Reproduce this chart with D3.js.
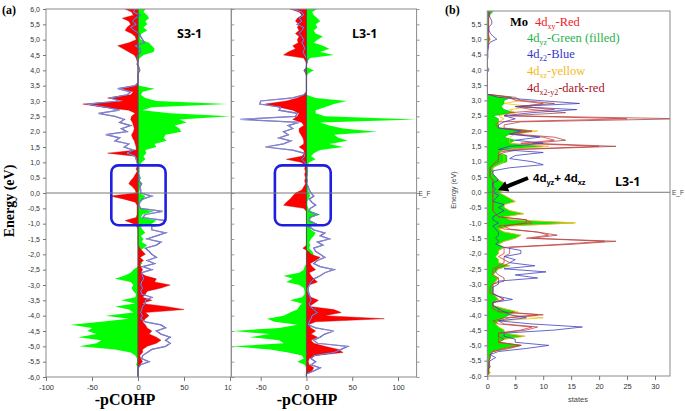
<!DOCTYPE html>
<html><head><meta charset="utf-8">
<script src="https://cdn.jsdelivr.net/npm/d3@7"></script>
<style>body{margin:0;background:#fff}svg{display:block}</style>
</head><body>
<svg id="c" width="685" height="411"></svg>
<script>
// ---------- energy grid (eV), from 6.0 down to -6.0, step 0.1 ----------
const energy = d3.range(121).map(i => +(6 - i * 0.1).toFixed(1));

// ---------- panel (a) : -pCOHP, S3-1 ----------
const s3Red = [
 -14,-7,-5,-17,-10,-8,-12,-14,-7,-3,
 -2,-10,-22,-16,-10,-4,-2,-1,0,0,
 0,0,0,0,0,-2,-18,-5,-8,-33,
 -15,-60,-38,-10,-3,-7,-8,-6,-5,-4,
 -5,-7,-6,-4,-3,-2,-2,-33,-3,-1,
 -1,0,-2,-1,-3,-5,-8,-10,-6,-3,
 -2,-30,-15,-3,-1,-1,-1,-1,-2,-14,
 -5,-1,0,0,0,0,0,0,2,5,
 8,2,6,2,3,5,3,8,20,18,
 35,25,10,8,5,15,4,30,50,8,
 12,8,5,8,10,15,12,20,25,20,
 10,5,5,2,3,5,2,0,0,0,
 0];
const s3Green = [
 8,6,10,12,8,10,6,10,4,2,
 3,12,15,18,17,6,2,0,0,0,
 0,0,0,0,0,1,18,5,3,8,
 20,97,15,5,35,100,45,53,40,45,
 47,30,28,31,18,20,8,9,6,8,
 4,2,1,2,1,3,2,4,2,2,
 1,8,6,2,1,2,17,5,3,20,
 15,3,5,8,3,6,4,10,6,1,
 0,3,1,5,0,-5,-8,-15,-25,-8,
 -5,-7,-5,-2,-3,-18,-3,-25,-10,-5,
 -35,-10,-40,-73,-50,-55,-45,-65,-40,-45,
 -64,-25,-8,-3,-1,-1,-2,0,0,0,
 0];
const s3Blue = [
 -3,-5,2,-3,-6,-2,-8,-4,1,3,
 5,7,-3,2,3,0,-1,0,-1,1,
 2,0,0,0,0,-3,-22,-8,-12,-30,
 -20,-55,-35,-20,-43,-25,-15,-20,-8,-18,
 -12,-35,-20,-25,-10,-15,-5,-12,-3,-2,
 -1,0,1,0,1,2,1,4,2,3,
 3,15,5,2,1,3,27,8,5,30,
 28,15,15,30,20,10,25,20,8,12,
 15,20,10,18,5,15,4,5,6,4,
 3,5,3,4,15,8,8,5,4,3,
 5,3,8,25,30,20,25,35,30,35,
 30,15,10,5,4,12,3,0,0,0,
 0];

// ---------- panel (a) : -pCOHP, L3-1 ----------
const l3Red = [
 -18,-8,-5,-10,-12,-8,-10,-8,-12,-8,
 -10,-9,-15,-12,-20,-25,-3,-1,0,0,
 -3,-1,0,0,0,0,0,0,-2,-10,
 -22,-45,-30,-15,-8,-10,-15,-5,-3,-8,
 -8,-6,-4,-3,-3,-8,-3,-2,-5,-22,
 -6,-1,-2,-1,-2,-1,-2,-1,-3,-5,
 -12,-15,-18,-22,-25,-3,0,0,0,0,
 0,0,0,0,0,0,0,0,-4,2,
 5,15,10,4,6,10,3,5,8,12,
 3,1,1,2,5,13,8,3,30,38,
 20,85,10,2,5,10,5,12,5,8,
 20,35,40,10,3,2,3,8,6,0,
 0];
const l3Green = [
 12,6,8,12,15,10,12,8,10,18,
 12,8,18,25,15,30,4,1,0,0,
 8,2,0,0,0,0,0,0,0,10,
 44,30,20,10,10,20,120,15,25,40,
 77,30,35,45,25,40,15,8,5,10,
 3,1,1,2,1,1,1,1,2,2,
 3,4,2,1,1,2,5,15,5,3,
 12,3,5,10,8,5,3,4,3,6,
 8,2,1,0,-2,-3,-8,-25,-15,-22,
 -8,-3,-2,-2,-5,-18,-5,-8,-10,-18,
 -25,-43,-35,-10,-30,-80,-40,-62,-30,-25,
 -82,-40,-20,-5,-3,-10,-2,0,0,0,
 0];
const l3Blue = [
 -15,-5,-3,-8,-5,-10,-3,-5,-8,-5,
 -3,-5,-3,-2,-4,-2,0,1,0,0,
 -2,0,0,0,0,0,0,0,-3,-15,
 -50,-51,-28,-30,-10,-12,-72,-8,-20,-15,
 -25,-20,-30,-17,-25,-45,-15,-3,-2,-5,
 -2,0,1,0,1,0,1,0,2,3,
 5,8,3,6,10,4,3,12,4,3,
 10,3,8,20,15,25,12,18,8,10,
 15,20,12,8,15,30,20,15,8,5,
 3,2,2,3,4,5,3,4,8,12,
 6,5,3,2,10,30,20,15,8,12,
 45,38,30,8,5,10,5,15,8,0,
 0];

// ---------- panel (b) : Mo 4d PDOS (states), L3-1 ----------
const moDyz = [ // green, filled
 1,1,0.5,0.3,0.2,0.3,0.2,0.1,0.2,0.3,
 0.5,0.2,0.1,0.1,0,0,0,0,0,0,
 0,0,0,0,0,0,0,0,0,4.4,
 3,3,2.5,3,5,1,2,2,2,2,
 8,4,3,5,4,10,3,2,3.5,3.5,
 3.5,2,1,1,1,1.5,2,3,4,3,
 2,3,4,5,3,3,4,6.5,3,4,
 15.5,4,2,3,6,5,3,2,3,2,
 2,1.5,2,2,4,2,1.5,1,2,1.5,
 1,1,1,1,1.5,2,1,1,3,5,
 4,3,2,1.5,2,3,3,6.5,3,2,
 6,3,1,0.5,0.5,0.3,0.3,0.5,0.3,0.5,
 0];
const moDxz = [ // yellow
 1.5,0.5,0.3,0.2,0.3,0.2,0.2,0.2,0.2,0.3,
 0.5,0.2,0.1,0,0,0,0,0,0,0,
 0,0,0,0,0,0,0,0,0,3,
 6,3,8,4,5,2,3,2,2,2,
 9,5,4,4,4,11,4,2,3,3,
 3,2,1,1,1,1.5,2,3,4,3.5,
 2,3,4,5,3,3,4,6.5,3,4,
 15.8,4,2,3,6,5,3,2,3,2,
 2,1.5,2,2,4,2,1.5,1,2,1.5,
 1,1,1,1,1.5,2,1,1,3,5.5,
 4,10,2,1.5,2,3,3,6.8,3,2,
 6.2,3,1,0.5,0.5,0.3,0.3,0.5,0.3,0.5,
 0];
const moDz2 = [ // blue
 1,0.5,0.3,0.5,0.8,0.8,0.3,0.3,0.5,1,
 1.7,0.5,0.2,0.2,0.1,0.1,0.1,0,0,0,
 0.3,0,0,0,0,0,0,0,0,2,
 9,16.5,5,16,8,3,5,3,2,2,
 6,4,9.4,5,10,4,2,10,5,4,
 8,10,4,1,1,1.5,2,1,1,1.5,
 1,2,1.5,1,3,2,3,2,1,1,
 2,1,1.5,2,2,1.5,2,1.5,3,6,
 6,3,5,4,8.5,3,10.5,5,9,2,
 2,1,1,1,2,4.5,1,1,2,3,
 4,7,2,8,17,12,3,3,5,5,
 11,7,2,0.5,1.5,0.5,0.3,0.5,0,0,
 0];
const moDxy = [ // red
 0.5,0.3,0.2,0.2,0.2,0.2,0.2,0.2,0.2,0.2,
 0.3,0.2,0.1,0,0,0,0,0,0,0,
 0,0,0,0,0,0,0,0,0,4,
 5,10,6,12,4,3,25,2,1.5,2,
 7,4,10,12,6,20,5,2,2,2,
 1.5,1,0.5,0.5,0.5,0.5,1,1,1,1,
 1,1,1,1,1,1,1,1.5,2,7,
 8,2,3,9,11,7,21,13,3,3,
 3,2,3,3,2,1,1,1,2,2,
 1,0.5,0.5,0.5,2,3,1,1,1,2,
 9,3,1,2,8,6,2,2,2,2,
 6,3,1,0.5,0.5,0.3,0.3,0.2,0.2,0.2,
 0];
const moDx2y2 = [ // dark red
 0.5,0.3,0.2,0.2,0.2,0.2,0.2,0.2,0.2,0.2,
 0.3,0.2,0.1,0,0,0,0,0,0,0,
 0,0,0,0,0,0,0,0,0,5,
 6,12,5,8,14,4,35,6,3,3,
 8,5,12,14,8,23,6,3,2,2,
 2,1,0.5,0.5,0.5,0.5,1,1,1,1,
 1,1,1,1,1,1,1,1.5,2,7,
 7,3,4,9,12.5,8,23,15,4,4,
 4,3,3,4,3,1.5,1.5,2,3,3,
 1,1,1,1,2,3,1,1,2,2,
 10,4,2,3,9,7,2,2,3,2,
 6,4,1,0.5,0.5,0.3,0.3,0.2,0.2,0.2,
 0];

// ---------- ticks / labels ----------
const energyTicks = d3.range(25).map(i => +(6 - i * 0.5).toFixed(1));
const energyTicksB = energyTicks.filter(e => e <= 5.5);
const s3Ticks = [-100, -50, 0, 50, 100];
const l3Ticks = [-50, 0, 50, 100];
const statesTicks = [0, 5, 10, 15, 20, 25, 30];
const legendItems = [
  {pre: '4d', sub: 'xy', post: '-Red', color: '#ec2227'},
  {pre: '4d', sub: 'yz', post: '-Green (filled)', color: '#1fb24c'},
  {pre: '4d', sub: 'z2', post: '-Blue', color: '#3a35c8'},
  {pre: '4d', sub: 'xz', post: '-yellow', color: '#f4b918'},
  {pre: '4d', sub: 'x2-y2', post: '-dark-red', color: '#a8141f'}
];

// ---------- drawing ----------
const svg = d3.select('#c');
const fmtE = d => (d < 0 ? '-' : '') + Math.abs(d).toFixed(1).replace('.', ',');
const fmtI = d => (d < 0 ? '-' : '') + Math.abs(d);
const series = arr => energy.map((e, i) => ({e, v: arr[i]}));
const defs = svg.append('defs');
function clip(id, x, y, w, h) {
  defs.append('clipPath').attr('id', id).append('rect')
    .attr('x', x).attr('y', y).attr('width', w).attr('height', h);
}
const SANS = 'Liberation Sans, Arial, sans-serif';
const SERIF = 'Liberation Serif, Times New Roman, serif';

const yA = d3.scaleLinear().domain([-6, 6]).range([377, 9]);
const xS3 = d3.scaleLinear().domain([-100, 100]).range([46, 230]);
const xL3 = d3.scaleLinear().domain([-50, 100]).range([260.7, 398]);

const cohpPanels = [
  {x: xS3, left: 46, right: 231.3, red: s3Red, green: s3Green, blue: s3Blue, name: 'S3-1', nameX: 177, titleX: 125, ticks: s3Ticks, id: 'pS3', box: [-29, 30]},
  {x: xL3, left: 231.3, right: 416.6, red: l3Red, green: l3Green, blue: l3Blue, name: 'L3-1', nameX: 352, titleX: 307, ticks: l3Ticks, id: 'pL3', box: [-34.5, 26.5]}
];

cohpPanels.forEach(p => {
  const top = yA(6), bot = yA(-6);
  clip(p.id, p.left, top, p.right - p.left, bot - top);
  const g = svg.append('g').attr('clip-path', `url(#${p.id})`);
  const area = d3.area().y(d => yA(d.e)).x0(p.x(0)).x1(d => p.x(d.v));
  const line = d3.line().y(d => yA(d.e)).x(d => p.x(d.v));
  g.append('path').attr('d', area(series(p.green))).attr('fill', '#00ff00');
  g.append('path').attr('d', area(series(p.red))).attr('fill', '#ff0000')
    .attr('stroke', '#c00000').attr('stroke-width', 0.4);
  g.append('path').attr('d', line(series(p.blue))).attr('fill', 'none')
    .attr('stroke', '#3c3cb0').attr('stroke-width', 1.25);
  g.append('path').attr('d', line(series(p.blue))).attr('fill', 'none')
    .attr('stroke', '#e4e4f8').attr('stroke-width', 0.45);
  g.append('line').attr('x1', p.x(0)).attr('x2', p.x(0)).attr('y1', top).attr('y2', bot)
    .attr('stroke', '#555').attr('stroke-width', 1);
  svg.append('rect').attr('x', p.left).attr('y', top).attr('width', p.right - p.left).attr('height', bot - top)
    .attr('fill', 'none').attr('stroke', '#8a8a8a').attr('stroke-width', 1);
  // x axis (labels clipped at the right edge of the first panel)
  clip(p.id + 'ax', p.left - 20, bot, (p.right - p.left) + (p.id === 'pS3' ? 20 : 40), 22);
  const axWrap = svg.append('g').attr('clip-path', `url(#${p.id}ax)`);
  const ax = axWrap.append('g').attr('transform', `translate(0,${bot})`)
    .call(d3.axisBottom(p.x).tickValues(p.ticks).tickFormat(fmtI).tickSize(4).tickSizeOuter(0));
  ax.select('.domain').remove();
  ax.selectAll('line').attr('stroke', '#777');
  ax.selectAll('text').attr('font-family', SANS).attr('font-size', 7.5).attr('fill', '#333').attr('dy', '0.85em');
  const rt = svg.append('g').attr('transform', `translate(${p.right},0)`)
    .call(d3.axisRight(yA).tickValues(energyTicks).tickFormat('').tickSize(3).tickSizeOuter(0));
  rt.select('.domain').remove(); rt.selectAll('line').attr('stroke', '#999');
  svg.append('text').attr('x', p.nameX).attr('y', 38)
    .attr('font-family', 'Open Sans, Arial, sans-serif').attr('font-weight', 700).attr('font-size', 12.5)
    .text(p.name);
  svg.append('text').attr('x', p.titleX).attr('y', 405)
    .attr('text-anchor', 'middle').attr('font-family', SERIF)
    .attr('font-weight', 700).attr('font-size', 16).text('-pCOHP');
  svg.append('rect').attr('x', p.x(p.box[0])).attr('y', yA(0.9)).attr('width', p.x(p.box[1]) - p.x(p.box[0]))
    .attr('height', yA(-1.05) - yA(0.9)).attr('rx', 7).attr('fill', 'none')
    .attr('stroke', '#1f1fe0').attr('stroke-width', 2.6);
});

const la = svg.append('g').attr('transform', 'translate(46,0)')
  .call(d3.axisLeft(yA).tickValues(energyTicks).tickFormat(fmtE).tickSize(3).tickSizeOuter(0));
la.select('.domain').remove();
la.selectAll('line').attr('stroke', '#777');
la.selectAll('text').attr('font-family', SANS).attr('font-size', 7).attr('fill', '#333');

svg.append('line').attr('x1', 46).attr('x2', 416.6).attr('y1', yA(0)).attr('y2', yA(0))
  .attr('stroke', '#777').attr('stroke-width', 1);
svg.append('text').attr('x', 418.5).attr('y', yA(0) + 2.5).attr('font-family', SANS)
  .attr('font-size', 6.5).attr('fill', '#444').text('E_F');

svg.append('text').attr('x', 2).attr('y', 14).attr('font-family', SERIF)
  .attr('font-weight', 700).attr('font-size', 12).text('(a)');
svg.append('text').attr('transform', 'translate(14,201) rotate(-90)').attr('text-anchor', 'middle')
  .attr('font-family', SERIF).attr('font-weight', 700).attr('font-size', 14)
  .text('Energy (eV)');

// ---------- panel (b) ----------
const yB = d3.scaleLinear().domain([-6, 5.92]).range([376, 11]);
const xB = d3.scaleLinear().domain([0, 30]).range([487.3, 655]);
const bL = 487.3, bR = 670, bT = yB(5.92), bB = yB(-6);
clip('pB', bL, bT, bR - bL, bB - bT);
const gb = svg.append('g').attr('clip-path', 'url(#pB)');
const areaB = d3.area().y(d => yB(d.e)).x0(xB(0)).x1(d => xB(d.v));
const lineB = d3.line().y(d => yB(d.e)).x(d => xB(d.v));
gb.append('path').attr('d', areaB(series(moDyz))).attr('fill', '#00f000')
  .attr('stroke', '#0a7a1a').attr('stroke-width', 0.4);
[[moDxz, '#f2c014'], [moDxy, '#e23838'], [moDx2y2, '#a84848'], [moDz2, '#4040c0']].forEach(([arr, col]) => {
  gb.append('path').attr('d', lineB(series(arr))).attr('fill', 'none')
    .attr('stroke', col).attr('stroke-width', 0.8);
});
svg.append('rect').attr('x', bL).attr('y', bT).attr('width', bR - bL).attr('height', bB - bT)
  .attr('fill', 'none').attr('stroke', '#8a8a8a').attr('stroke-width', 1);
svg.append('line').attr('x1', bL).attr('x2', bR).attr('y1', yB(0)).attr('y2', yB(0))
  .attr('stroke', '#777').attr('stroke-width', 1);
svg.append('text').attr('x', 672).attr('y', yB(0) + 2.5).attr('font-family', SANS)
  .attr('font-size', 6.5).attr('fill', '#444').text('E_F');

const lb = svg.append('g').attr('transform', `translate(${bL},0)`)
  .call(d3.axisLeft(yB).tickValues(energyTicksB).tickFormat(fmtE).tickSize(3).tickSizeOuter(0));
lb.select('.domain').remove();
lb.selectAll('line').attr('stroke', '#777');
lb.selectAll('text').attr('font-family', SANS).attr('font-size', 7).attr('fill', '#333');
const bx = svg.append('g').attr('transform', `translate(0,${bB})`)
  .call(d3.axisBottom(xB).tickValues(statesTicks).tickFormat(fmtI).tickSize(4).tickSizeOuter(0));
bx.select('.domain').remove();
bx.selectAll('line').attr('stroke', '#777');
bx.selectAll('text').attr('font-family', SANS).attr('font-size', 7.5).attr('fill', '#333').attr('dy', '0.85em');

svg.append('text').attr('x', 578).attr('y', 402).attr('text-anchor', 'middle')
  .attr('font-family', SANS).attr('font-size', 7.5).attr('fill', '#444').text('states');
svg.append('text').attr('transform', 'translate(456,190) rotate(-90)').attr('text-anchor', 'middle')
  .attr('font-family', SANS).attr('font-size', 7).attr('fill', '#444').text('Energy (eV)');
svg.append('text').attr('x', 445).attr('y', 14).attr('font-family', SERIF)
  .attr('font-weight', 700).attr('font-size', 12).text('(b)');

svg.append('text').attr('x', 510).attr('y', 26).attr('font-family', SERIF)
  .attr('font-weight', 700).attr('font-size', 12.5).text('Mo');
const legY = [26, 42, 58, 74.5, 91.5];
legendItems.forEach((it, i) => {
  const t = svg.append('text').attr('x', i === 0 ? 535 : 527).attr('y', legY[i])
    .attr('font-family', SERIF).attr('font-size', 12.5).attr('fill', it.color);
  t.append('tspan').text(it.pre);
  t.append('tspan').attr('font-size', 8).attr('dy', 3).text(it.sub);
  t.append('tspan').attr('dy', -3).text(it.post);
});

const tail = [528, 178], tip = [498, 190];
const dx = tip[0] - tail[0], dy = tip[1] - tail[1], L = Math.hypot(dx, dy);
const ux = dx / L, uy = dy / L, nx = -uy, ny = ux;
const hb = [tip[0] - ux * 10, tip[1] - uy * 10];
const P = (b, s) => [b[0] + nx * s, b[1] + ny * s];
const arrowPts = [P(tail, 2), P(hb, 2), P(hb, 5.5), tip, P(hb, -5.5), P(hb, -2), P(tail, -2)];
svg.append('path').attr('d', d3.line()(arrowPts) + 'Z').attr('fill', '#000');
const ann = svg.append('text').attr('x', 533).attr('y', 182)
  .attr('font-family', SANS).attr('font-weight', 700).attr('font-size', 11.5);
ann.append('tspan').text('4d');
ann.append('tspan').attr('font-size', 7.5).attr('dy', 3).text('yz');
ann.append('tspan').attr('dy', -3).text('+ 4d');
ann.append('tspan').attr('font-size', 7.5).attr('dy', 3).text('xz');
svg.append('text').attr('x', 615).attr('y', 186).attr('font-family', 'Open Sans, Arial, sans-serif')
  .attr('font-weight', 700).attr('font-size', 12.5).text('L3-1');
</script></body></html>
